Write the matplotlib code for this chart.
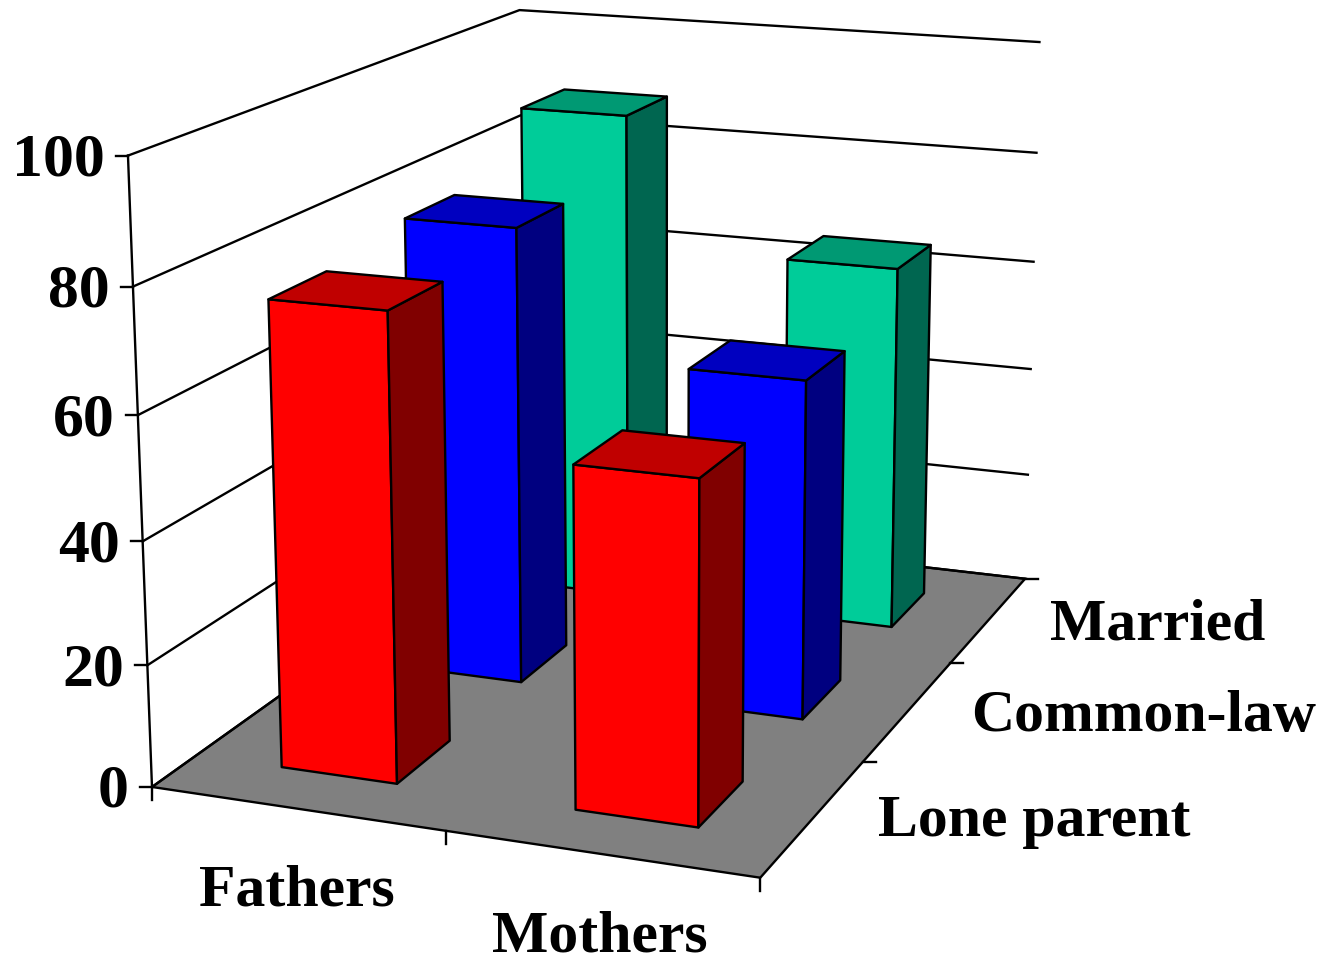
import numpy as np
import matplotlib
matplotlib.use("Agg")
import matplotlib.pyplot as plt
from matplotlib.patches import Polygon

plt.rcParams["font.family"] = ["Liberation Serif", "DejaVu Serif"]

parents = ["Fathers", "Mothers"]
unions = ["Lone parent", "Common-law", "Married"]
values = {
    "Lone parent": [76, 55],
    "Common-law": [78.5, 57.5],
    "Married": [88.4, 65],
}
z_ticks = [0, 20, 40, 60, 80, 100]

colors = {
    "Lone parent": ("#FF0000", "#800000", "#C00000"),
    "Common-law": ("#0000FF", "#000080", "#0000C0"),
    "Married": ("#00CC99", "#006650", "#009973"),
}

# calibration du repere : (x, y, z) du graphe -> pixels de l'image
calib_world = np.array([
    [0, 0, 0], [1, 0, 0], [2, 0, 0], [2, 1, 0], [2, 2, 0], [2, 3, 0],
    [0, 0, 20], [0, 0, 40], [0, 0, 60], [0, 0, 80], [0, 0, 100],
    [2, 3, 20], [2, 3, 40], [2, 3, 60], [2, 3, 80], [2, 3, 100], [0, 3, 100],
], dtype=float)
calib_px = np.array([
    [152, 788], [445, 831], [761, 878], [862, 762], [950, 662], [1027, 578],
    [148, 665], [143, 541], [138, 415], [133, 287], [128, 155],
    [1027, 476], [1030, 369], [1033, 262], [1037, 153], [1040, 42], [519, 10],
], dtype=float)

A = []
b = []
for (X, Y, Z), (u, v) in zip(calib_world, calib_px):
    A.append([X, Y, Z, 1, 0, 0, 0, 0, -u * X, -u * Y, -u * Z])
    A.append([0, 0, 0, 0, X, Y, Z, 1, -v * X, -v * Y, -v * Z])
    b += [u, v]
P = np.linalg.lstsq(np.array(A), np.array(b), rcond=None)[0]
P = np.append(P, 1).reshape(3, 4)


def proj(x, y, z):
    h = P @ np.array([x, y, z, 1.0])
    return h[0] / h[2], h[1] / h[2]


fig = plt.figure(figsize=(13.21, 9.57), dpi=100)
ax = fig.add_axes([0, 0, 1, 1])
ax.set_xlim(0, 1321)
ax.set_ylim(957, 0)
ax.axis("off")

LW = 1.7

# sol
floor = [proj(0, 0, 0), proj(2, 0, 0), proj(2, 3, 0), proj(0, 3, 0)]
ax.add_patch(Polygon(floor, closed=True, fc="#808080", ec="black", lw=LW, zorder=1))

# grille des murs
for z in z_ticks:
    p0, p1, p2 = proj(0, 0, z), proj(0, 3, z), proj(2, 3, z)
    ax.plot([p0[0], p1[0], p2[0]], [p0[1], p1[1], p2[1]], color="black", lw=LW, zorder=1.5)
    ax.plot([p0[0], p0[0] - 12], [p0[1], p0[1]], color="black", lw=LW, zorder=1.5)
    ax.text(p0[0] - 23, p0[1] + 20, str(z), ha="right", va="baseline",
            fontsize=44.5, fontweight="bold")
p0, p1 = proj(0, 0, 0), proj(0, 0, 100)
ax.plot([p0[0], p1[0]], [p0[1], p1[1]], color="black", lw=LW, zorder=1.5)

# graduations du sol
for i in range(3):
    p = proj(i, 0, 0)
    ax.plot([p[0], p[0]], [p[1], p[1] + 13], color="black", lw=LW, zorder=1.5)
for j in range(1, 4):
    p = proj(2, j, 0)
    ax.plot([p[0], p[0] + 13], [p[1], p[1]], color="black", lw=LW, zorder=1.5)

# barres, du fond vers l'avant
w = 0.40
d = 0.405
order = 2
for j in range(len(unions) - 1, -1, -1):
    front_c, side_c, top_c = colors[unions[j]]
    for i in range(len(parents)):
        val = values[unions[j]][i]
        x0, x1 = i + 0.5 - w / 2, i + 0.5 + w / 2
        y0, y1 = j + 0.5 - d / 2, j + 0.5 + d / 2
        faces = [
            ([(x0, y0, 0), (x1, y0, 0), (x1, y0, val), (x0, y0, val)], front_c),
            ([(x1, y0, 0), (x1, y1, 0), (x1, y1, val), (x1, y0, val)], side_c),
            ([(x0, y0, val), (x1, y0, val), (x1, y1, val), (x0, y1, val)], top_c),
        ]
        for pts, c in faces:
            ax.add_patch(Polygon([proj(*q) for q in pts], closed=True, fc=c, ec="black",
                                 lw=LW, joinstyle="round", zorder=order))
        order += 0.1

ax.text(297, 906, parents[0], ha="center", va="baseline", fontsize=43, fontweight="bold")
ax.text(600, 952, parents[1], ha="center", va="baseline", fontsize=43, fontweight="bold")
ax.text(1034, 836, unions[0], ha="center", va="baseline", fontsize=43, fontweight="bold")
ax.text(1144, 731, unions[1], ha="center", va="baseline", fontsize=43, fontweight="bold")
ax.text(1158, 640, unions[2], ha="center", va="baseline", fontsize=43, fontweight="bold")

fig.savefig("out.png", dpi=100)
